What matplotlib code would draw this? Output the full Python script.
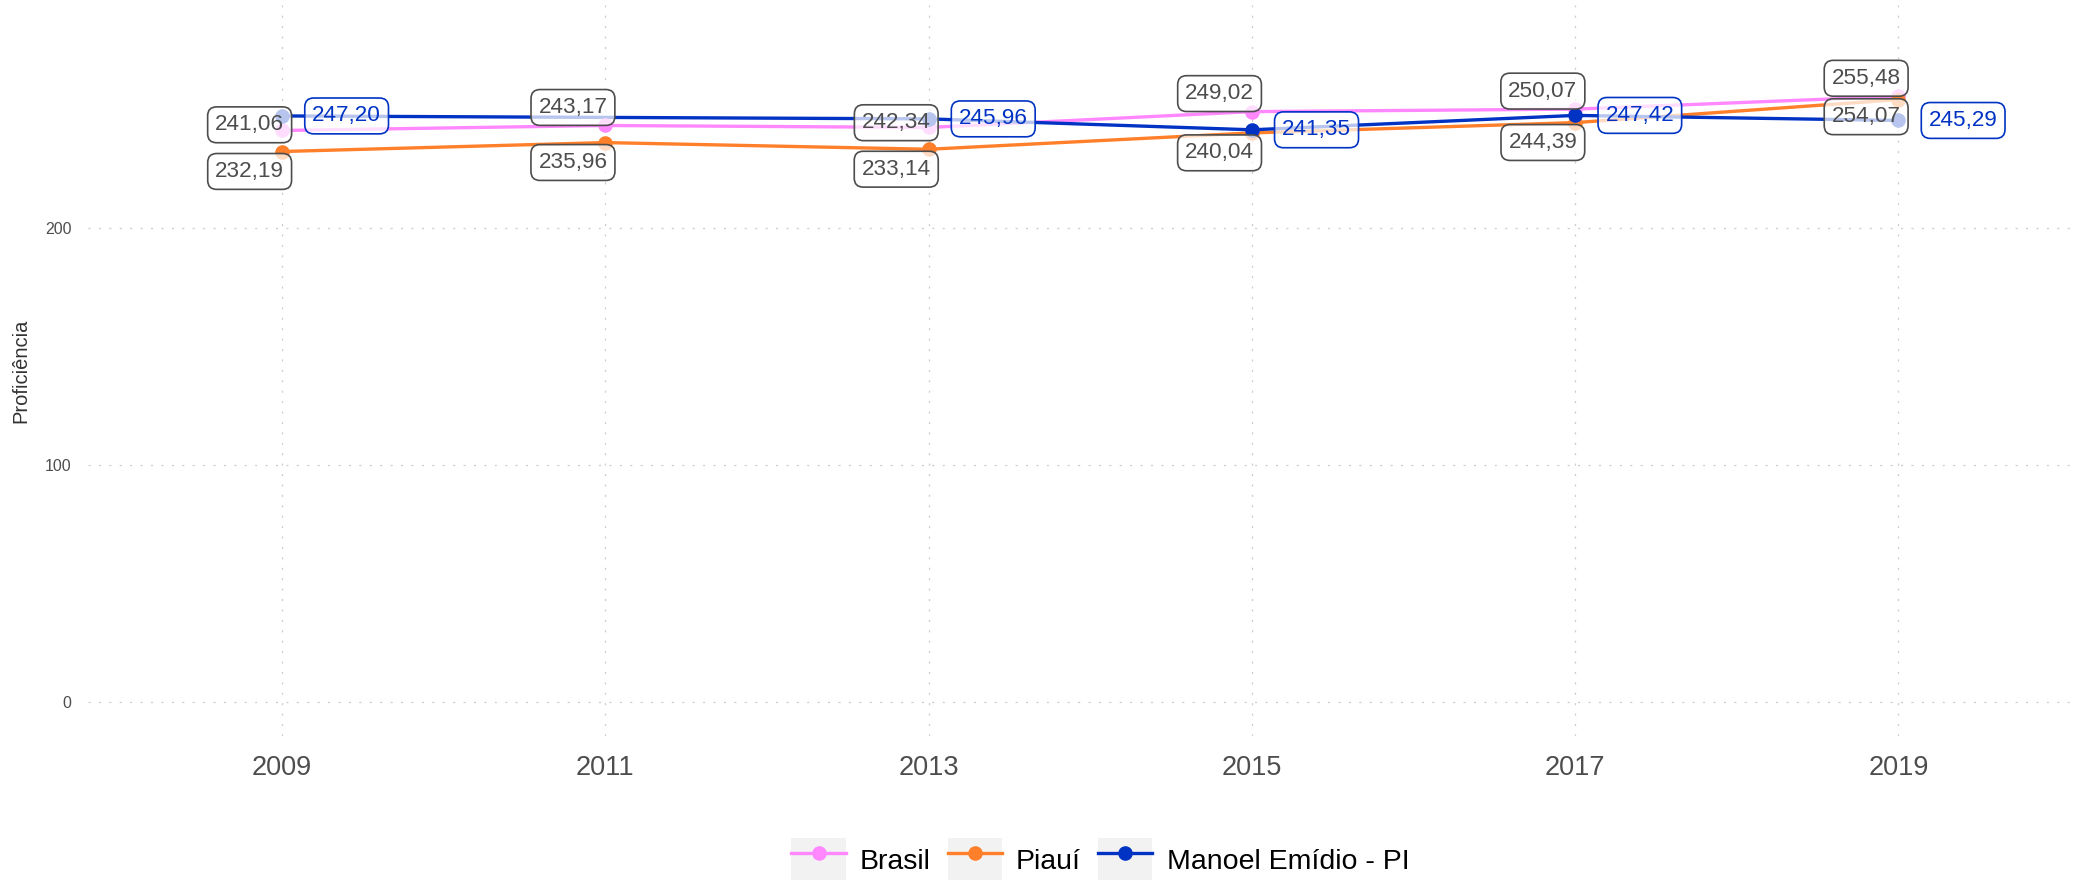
import numpy as np
import matplotlib
matplotlib.use("Agg")
import matplotlib.pyplot as plt
from matplotlib.lines import Line2D
from matplotlib.patches import Patch
from matplotlib.legend_handler import HandlerTuple

# ==========================
# Dati
# ==========================
anos = [2009, 2011, 2013, 2015, 2017, 2019]
brasil = [241.06, 243.17, 242.34, 249.02, 250.07, 255.48]
piaui = [232.19, 235.96, 233.14, 240.04, 244.39, 254.07]
# Manoel Emídio: sem dado em 2011
anos_municipio = [2009, 2013, 2015, 2017, 2019]
municipio = [247.20, 245.96, 241.35, 247.42, 245.29]

nomes = ["Brasil", "Piauí", "Manoel Emídio - PI"]
cores = ["#FF88FF", "#FF7F2A", "#0033C4"]

# deslocamento dos rótulos (em unidades de dados)
nudge_brasil = [(-0.2, 2.4), (-0.2, 7.6), (-0.2, 2.0), (-0.2, 7.6), (-0.2, 7.6), (-0.2, 7.6)]
nudge_piaui = [(-0.2, -8.4), (-0.2, -8.4), (-0.2, -8.4), (-0.2, -8.4), (-0.2, -8.4), (-0.2, -7.2)]
nudge_mun = (0.4, 0.0)

def fmt(v):
    return f"{v:.2f}".replace(".", ",")

plt.rcParams["font.family"] = ["Liberation Sans", "DejaVu Sans"]
plt.rcParams["lines.scale_dashes"] = False

fig = plt.figure(figsize=(20.8, 8.86), dpi=100)
ax = fig.add_axes([0.0423, 0.1693, 0.9567, 0.8251])

series = [(anos, brasil), (anos, piaui), (anos_municipio, municipio)]
for (xs, ys), cor in zip(series, cores):
    ax.plot(xs, ys, color=cor, lw=2.4, zorder=3, solid_capstyle="butt")
    ax.plot(xs, ys, "o", color=cor, ms=10.5, zorder=4, markeredgewidth=0)

def rotulo(x, y, dx, dy, cor_txt, cor_borda):
    ax.text(x + dx, y + dy, fmt(y), ha="center", va="center", fontsize=16.2,
            color=cor_txt, zorder=6,
            bbox=dict(boxstyle="round,pad=0.33,rounding_size=0.4",
                      facecolor=(1, 1, 1, 0.72), edgecolor=cor_borda, linewidth=1.2))

for x, y, (dx, dy) in zip(anos, brasil, nudge_brasil):
    rotulo(x, y, dx, dy, "#4d4d4d", "#4d4d4d")
for x, y, (dx, dy) in zip(anos, piaui, nudge_piaui):
    rotulo(x, y, dx, dy, "#4d4d4d", "#4d4d4d")
for x, y in zip(anos_municipio, municipio):
    rotulo(x, y, nudge_mun[0], nudge_mun[1], cores[2], cores[2])

ax.set_xlim(2007.80, 2020.11)
ax.set_ylim(-14.3, 294)
ax.set_xticks(anos)
ax.set_xticklabels([str(a) for a in anos])
ax.set_yticks([0, 100, 200])

ax.grid(True, color="#cccccc", linestyle=(0, (1.5, 6)), linewidth=0.9)
ax.set_axisbelow(True)
for s in ax.spines.values():
    s.set_visible(False)
ax.tick_params(axis="both", length=0, colors="#4d4d4d")
ax.tick_params(axis="x", labelsize=19.5, pad=14)
ax.tick_params(axis="y", labelsize=11.5, pad=12)
ax.set_ylabel("Proficiência", fontsize=14.5, color="#333333", labelpad=10)

handles = []
for cor in cores:
    fundo = Patch(facecolor="#f2f2f2", edgecolor="none")
    linha = Line2D([0], [0], color=cor, lw=2.4, marker="o", ms=10.5, markeredgewidth=0)
    handles.append((fundo, linha))

fig.legend(handles, nomes, loc="center", bbox_to_anchor=(0.529, 0.03), ncol=3,
           frameon=False, fontsize=20.5,
           handler_map={tuple: HandlerTuple(ndivide=1, pad=0)},
           handlelength=1.9, handleheight=1.9, handletextpad=0.5, columnspacing=0.6,
           borderaxespad=0)

fig.savefig("out.png", dpi=100)
